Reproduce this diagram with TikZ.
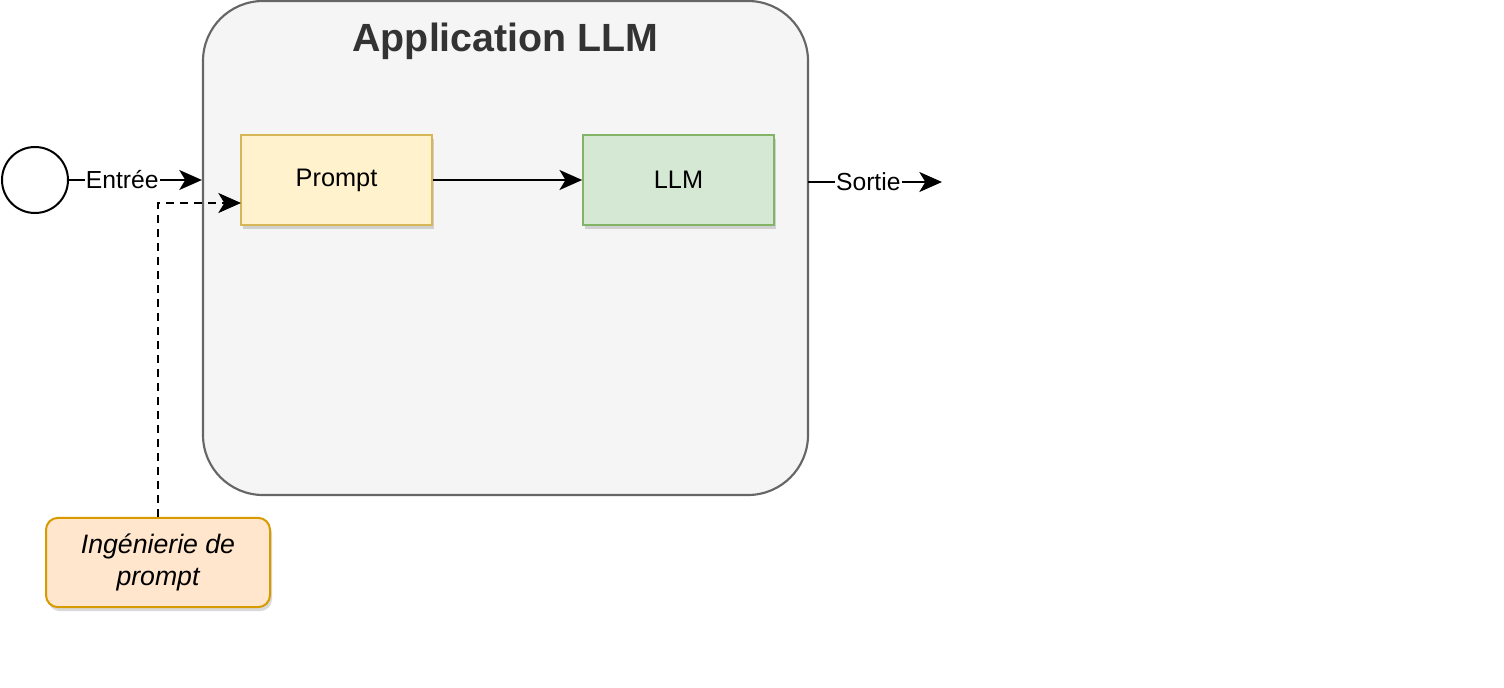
\documentclass[tikz,border=0pt]{standalone}
\usepackage{fontspec}
\setmainfont{Liberation Sans}
\usetikzlibrary{arrows.meta,shadows}
\definecolor{contfill}{HTML}{F5F5F5}
\definecolor{contdraw}{HTML}{666666}
\definecolor{titlec}{HTML}{333333}
\definecolor{yfill}{HTML}{FFF2CC}
\definecolor{ydraw}{HTML}{D6B656}
\definecolor{gfill}{HTML}{D5E8D4}
\definecolor{gdraw}{HTML}{82B366}
\definecolor{ofill}{HTML}{FFE6CC}
\definecolor{odraw}{HTML}{D79B00}
\begin{document}
\begin{tikzpicture}[x=0.75pt,y=-0.75pt,
  shad/.style={drop shadow={shadow xshift=1.5pt,shadow yshift=-3pt,fill=black,opacity=0.15}},
  box/.style={draw,line width=1.5pt,minimum width=143pt,minimum height=67.5pt,inner sep=0pt,font=\fontsize{19}{23}\selectfont,shad},
  conn/.style={line width=1.4pt,-{Stealth[length=17pt,width=15pt,inset=4.5pt]}},
  lbl/.style={fill=white,inner sep=1pt,font=\fontsize{18.5}{22}\selectfont}]
\useasboundingbox[fill=white] (0,0) rectangle (1504,688);
% container
\node[draw=contdraw,fill=contfill,line width=1.6pt,rounded corners=45pt,minimum width=453.75pt,minimum height=370.5pt,inner sep=0pt] (app) at (505.5,248) {};
\node[text=titlec,font=\bfseries\fontsize{29.5}{34}\selectfont] (title) at (505.5,41) {Application LLM};
% start circle
\node[draw,circle,line width=1.5pt,minimum size=49.5pt,inner sep=0pt,fill=white] (start) at (35,180) {};
% boxes
\node[box,fill=yfill,draw=ydraw] (prompt) at (336.5,180) {Prompt};
\node[box,fill=gfill,draw=gdraw] (llm) at (678.5,180) {LLM};
\node[draw=odraw,fill=ofill,line width=1.5pt,rounded corners=9pt,minimum width=168pt,minimum height=67pt,inner sep=0pt,align=center,font=\itshape\fontsize{20}{24}\selectfont,shad] (ing) at (158,562.5) {Ingénierie de\\prompt};
% coordinates
\coordinate (appin) at (app.west |- start.east);
\coordinate (appout) at (808,182);
\coordinate (outend) at (942,182);
\coordinate (corner) at (158,203);
\coordinate (promptin) at (241,203);
% connectors
\draw[conn] (start.east) -- node[lbl,pos=0.4] (entree) {Entrée} (appin);
\draw[conn] (prompt.east) -- (llm.west);
\draw[conn] (appout) -- node[lbl,pos=0.45] (sortie) {Sortie} (outend);
\draw[conn,dashed,dash pattern=on 6pt off 4.5pt] (ing.north) -- (corner) -- (promptin);
\end{tikzpicture}
\end{document}
